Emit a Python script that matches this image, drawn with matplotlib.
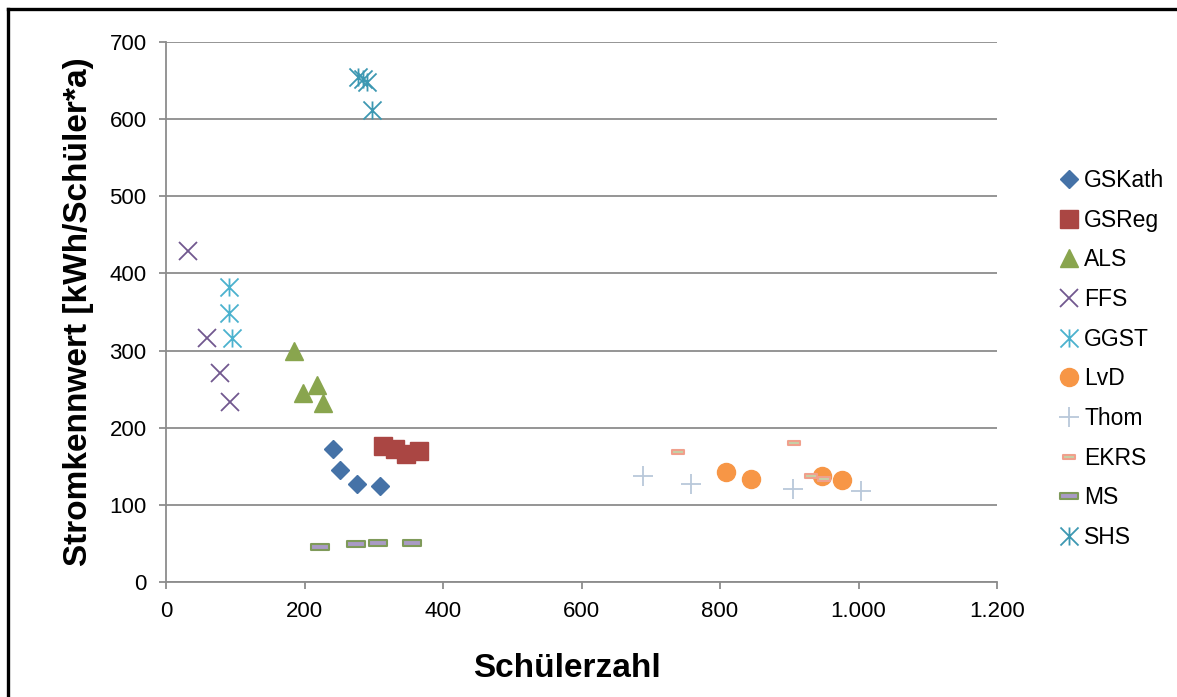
import numpy as np
import matplotlib
matplotlib.use("Agg")
import matplotlib.pyplot as plt
from matplotlib.path import Path
from matplotlib.lines import Line2D
from matplotlib.ticker import FuncFormatter, MultipleLocator

plt.rcParams['font.family'] = ['Liberation Sans', 'DejaVu Sans']

# Schülerzahl / Stromkennwert je Schule
gskath_x = [241, 251, 276, 309]
gskath_y = [172, 145, 127, 124]
gsreg_x = [313, 331, 347, 365]
gsreg_y = [176, 172, 166, 170]
als_x = [185, 218, 198, 227]
als_y = [299, 255, 245, 232]
ffs_x = [32, 59, 78, 92]
ffs_y = [429, 316, 271, 233]
ggst_x = [91, 91, 95]
ggst_y = [382, 349, 316]
lvd_x = [809, 845, 947, 976]
lvd_y = [142, 133, 137, 132]
thom_x = [689, 758, 905, 1004]
thom_y = [138, 127, 120, 118]
ekrs_x = [739, 907, 931, 950]
ekrs_y = [168, 180, 137, 133]
ms_x = [222, 274, 306, 355]
ms_y = [46, 49, 50, 50]
shs_x = [277, 284, 290, 297]
shs_y = [655, 652, 648, 612]

# Marker: X mit senkrechtem Strich (Excel-Stern)
stern = Path([(-1, -1), (1, 1), (-1, 1), (1, -1), (0, -1), (0, 1)],
             [Path.MOVETO, Path.LINETO, Path.MOVETO, Path.LINETO, Path.MOVETO, Path.LINETO])
balken = Path([(-1, -0.28), (1, -0.28), (1, 0.28), (-1, 0.28), (-1, -0.28)],
              [Path.MOVETO, Path.LINETO, Path.LINETO, Path.LINETO, Path.CLOSEPOLY])

fig = plt.figure(figsize=(11.77, 6.97), dpi=100)
ax = fig.add_axes([166 / 1177, 1 - 582 / 697, (997 - 166) / 1177, (582 - 42) / 697])

ax.plot(gskath_x, gskath_y, 'D', ls='none', color='#4572A7', ms=9.5, label='GSKath')
ax.plot(gsreg_x, gsreg_y, 's', ls='none', color='#AA4643', ms=13.5, label='GSReg')
ax.plot(als_x, als_y, '^', ls='none', color='#89A54E', ms=13.5, label='ALS')
ax.plot(ffs_x, ffs_y, 'x', ls='none', color='#71588F', ms=13, mew=1.3, label='FFS')
ax.plot(ggst_x, ggst_y, marker=stern, ls='none', color='#4BB2CE', mfc='none', ms=13, mew=1.3, label='GGST')
ax.plot(lvd_x, lvd_y, 'o', ls='none', color='#F79646', ms=13, label='LvD')
ax.plot(thom_x, thom_y, '+', ls='none', color='#B9C8DA', ms=14, mew=1.3, label='Thom')
ax.plot(ekrs_x, ekrs_y, marker=balken, ls='none', mfc='#C5D2A8', mec='#F0A08C', ms=8, mew=1.5, label='EKRS')
ax.plot(ms_x, ms_y, marker=balken, ls='none', mfc='#A99BC5', mec='#7F9A5A', ms=13, mew=1.5, label='MS')
ax.plot(shs_x, shs_y, marker=stern, ls='none', color='#3D98B2', mfc='none', ms=13, mew=1.3, label='SHS')

ax.set_xlim(0, 1200)
ax.set_ylim(0, 700)
ax.xaxis.set_major_locator(MultipleLocator(200))
ax.yaxis.set_major_locator(MultipleLocator(100))
ax.xaxis.set_major_formatter(FuncFormatter(lambda v, p: f"{v:,.0f}".replace(",", ".")))

grau = '#8C8C8C'
ax.grid(axis='y', color=grau, lw=1.3)
ax.set_axisbelow(True)
for s in ['top', 'right']:
    ax.spines[s].set_visible(False)
for s in ['left', 'bottom']:
    ax.spines[s].set_color(grau)
    ax.spines[s].set_linewidth(1.3)
ax.tick_params(direction='out', length=5, width=1.3, color=grau, labelsize=16, pad=9)

ax.set_xlabel('Schülerzahl', fontsize=24, fontweight='bold', labelpad=22)
ax.xaxis.label.set_x((567 - 166) / (997 - 166))
ax.set_ylabel('Stromkennwert [kWh/Schüler*a)', fontsize=24, fontweight='bold', labelpad=11)

ax.legend(loc='center left', bbox_to_anchor=(1052 / 1177, 1 - 359 / 697), bbox_transform=fig.transFigure,
          frameon=False, fontsize=16.5, handlelength=0.7, handletextpad=0.3, labelspacing=0.725,
          borderaxespad=0)

# Rahmen (oben und links)
fig.add_artist(Line2D([8 / 1177, 1], [1 - 9 / 697, 1 - 9 / 697], transform=fig.transFigure, color='black', lw=2.4))
fig.add_artist(Line2D([8 / 1177, 8 / 1177], [0, 1 - 9 / 697], transform=fig.transFigure, color='black', lw=2.4))

fig.savefig('out.png', dpi=100)
